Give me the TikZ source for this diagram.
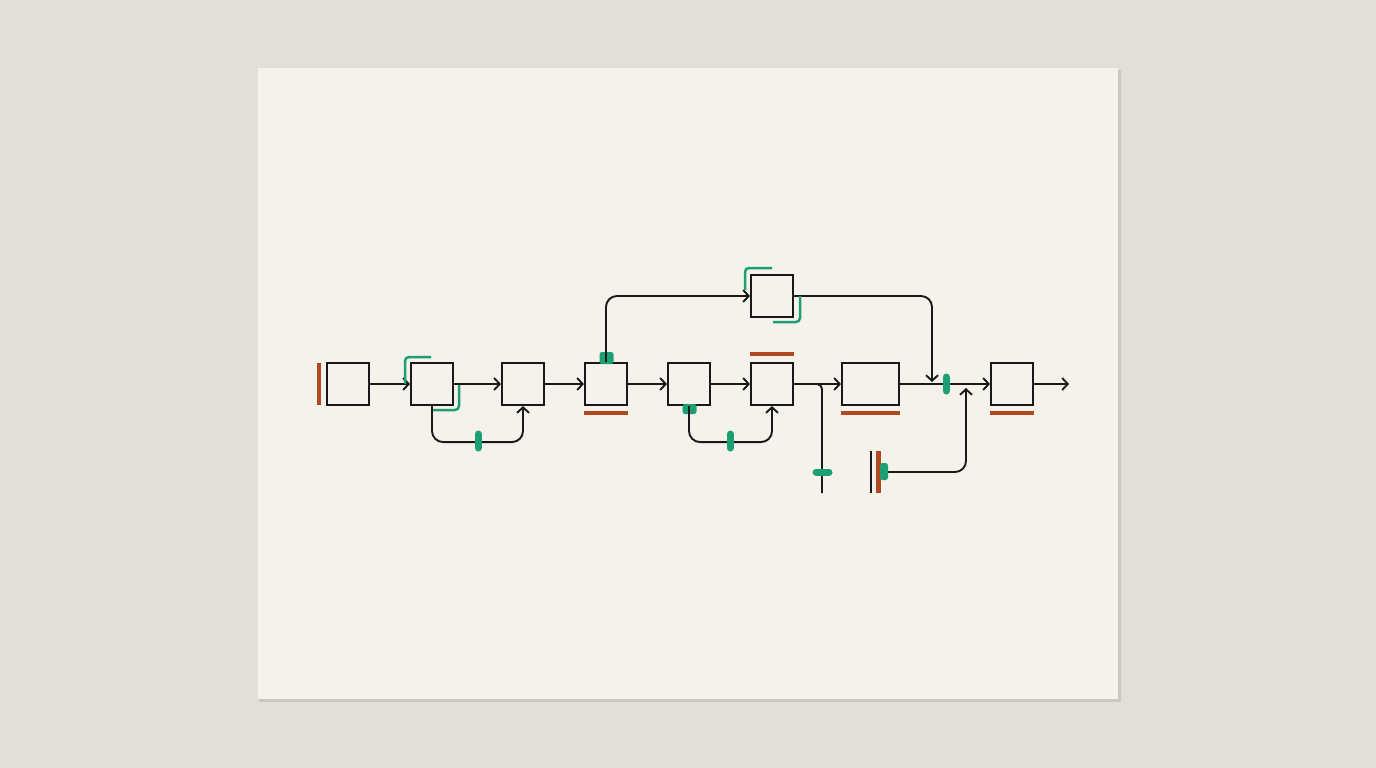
\documentclass[tikz,border=0pt]{standalone}
\usetikzlibrary{arrows.meta,calc}
\definecolor{bg}{RGB}{226,223,216}
\definecolor{paper}{RGB}{244,242,234}
\definecolor{rust}{RGB}{178,72,30}
\definecolor{teal}{RGB}{28,160,115}
\definecolor{ink}{RGB}{25,25,25}
\begin{document}
\begin{tikzpicture}[x=1pt,y=-1pt,
 blk/.style={draw=ink,line width=2.1pt,minimum width=42pt,minimum height=42pt,inner sep=0pt},
 wide/.style={blk,minimum width=57pt},
 conn/.style={draw=ink,line width=1.9pt,-{Straight Barb[length=5.5pt,width=12pt,line width=1.9pt]},rounded corners=11pt},
 wire/.style={draw=ink,line width=1.9pt,rounded corners=11pt},
 rbar/.style={draw=rust,line width=4.2pt},
 gtick/.style={draw=teal,line width=7pt,line cap=round},
 gbrk/.style={draw=teal,line width=2.5pt,rounded corners=4pt}]
\useasboundingbox (0,0) rectangle (1376,768);
\fill[bg] (0,0) rectangle (1376,768);
\fill[black,opacity=0.10] (259,70) rectangle (1121,702);
\fill[paper] (258,68) rectangle (1118,699);

% nodes
\node[blk] (b1) at (348,384) {};
\node[blk] (b2) at (432,384) {};
\node[blk] (b3) at (523,384) {};
\node[blk] (b4) at (606,384) {};
\node[blk] (b5) at (689,384) {};
\node[blk] (b6) at (772,384) {};
\node[wide] (b7) at (870.5,384) {};
\node[blk] (b8) at (1012,384) {};
\node[blk] (t) at (772,296) {};
\coordinate (j1) at (932,382);
\coordinate (j2) at (966,388);
\coordinate (src) at (884,472);
\coordinate (brtop) at (812,384);
\coordinate (brend) at (822,493);
\coordinate (out) at (1069,384);

% green tabs (under lines)
\fill[teal,rounded corners=2.5pt] (599.5,352) rectangle (613.5,364);
\fill[teal,rounded corners=2.5pt] (682.5,404) rectangle (696.5,414);

% connectors
\draw[conn] (b1) -- (b2);
\draw[conn] (b2) -- (b3);
\draw[conn] (b3) -- (b4);
\draw[conn] (b4) -- (b5);
\draw[conn] (b5) -- (b6);
\draw[conn] (b6) -- (b7);
\draw[conn] (b7) -- (b8);
\draw[conn] (b8) -- (out);
\draw[conn] (b2.south) -- ++(0,36) -| (b3.south);
\draw[conn] (b5.south) -- ++(0,36) -| (b6.south);
\draw[conn] (b4.north) |- (t.west);
\draw[conn] (t.east) -| (j1);
\draw[wire,rounded corners=5pt] (brtop) -| (brend);
\draw[conn] (src) -| (j2);
\draw[draw=ink,line width=1.9pt] (871,451) -- (871,493);

% rust bars
\draw[rbar] (319,363) -- (319,405);
\draw[rbar] ($(b4.south west)+(0,7)$) -- ($(b4.south east)+(0,7)$);
\draw[rbar] ($(b6.north west)+(0,-8)$) -- ($(b6.north east)+(0,-8)$);
\draw[rbar] ($(b7.south west)+(0,7)$) -- ($(b7.south east)+(0,7)$);
\draw[rbar] ($(b8.south west)+(0,7)$) -- ($(b8.south east)+(0,7)$);
\draw[rbar] (878.5,451) -- (878.5,493);
\fill[teal,rounded corners=2.5pt] (880,463) rectangle (888,480);

% green brackets
\draw[gbrk] (405,384) |- (431,357);
\draw[gbrk] (459,385) |- (433,410);
\draw[gbrk] (745,290) |- (772,268);
\draw[gbrk] (800,296) |- (773,322);

% green ticks
\draw[gtick] (478,434) -- (478,448);
\draw[gtick] (730,434) -- (730,448);
\draw[gtick] (816,472) -- (829,472);
\draw[gtick] (946,377) -- (946,391);
\end{tikzpicture}
\end{document}
